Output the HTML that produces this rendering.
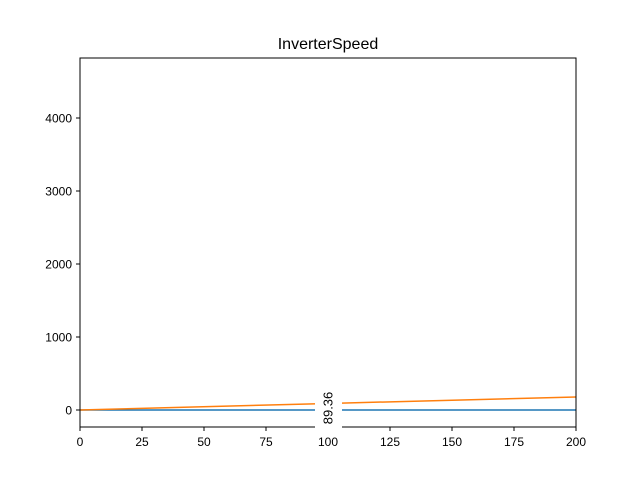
<!DOCTYPE html>
<html><head><meta charset="utf-8"><style>body{margin:0;background:#fff}svg{display:block;font-family:"Liberation Sans","DejaVu Sans",sans-serif}</style></head>
<body>
<svg id="chart" width="640" height="480">
<rect width="640" height="480" fill="#fff"/>
<text x="328" y="49" text-anchor="middle" font-size="16">InverterSpeed</text>
<g id="marks"></g>
<rect x="80" y="58" width="496" height="369" fill="none" stroke="#000" stroke-width="1"/>
<g id="ticks"></g>
<g id="annot"></g>
</svg>
<script>
const xTicks=[0,25,50,75,100,125,150,175,200];
const yTicks=[0,1000,2000,3000,4000];
const seriesX=[0,100,200];
const blueValues=[0,0,0];
const orangeValues=[0,89.36,178.72];
const annotX=[100];
const annotLabels=["89.36"];
const NS="http://www.w3.org/2000/svg";
const xs=v=>80+(v-0)*496/200;
const ys=v=>410-v*0.073;
function mk(t,a,p){const e=document.createElementNS(NS,t);for(const k in a)e.setAttribute(k,a[k]);p.appendChild(e);return e;}
const marks=document.getElementById('marks'),ticks=document.getElementById('ticks'),annot=document.getElementById('annot');
const b=mk('polyline',{points:seriesX.map((x,i)=>xs(x)+','+ys(blueValues[i])).join(' '),fill:'none',stroke:'#1f77b4','stroke-width':1.5},marks);


const o=mk('polyline',{points:seriesX.map((x,i)=>xs(x)+','+ys(orangeValues[i])).join(' '),fill:'none',stroke:'#ff7f0e','stroke-width':1.5},marks);


xTicks.forEach(t=>{const x=xs(t);
const l=mk('line',{x1:x,x2:x,y1:427,y2:431,stroke:'#000'},ticks);


const tx=mk('text',{x:x,y:446,'text-anchor':'middle','font-size':12},ticks);tx.textContent=t;

});
yTicks.forEach(t=>{const y=ys(t);
const l=mk('line',{x1:76,x2:80,y1:y,y2:y,stroke:'#000'},ticks);


const tx=mk('text',{x:72,y:y+4.5,'text-anchor':'end','font-size':12},ticks);tx.textContent=t;

});
annotX.forEach((a,i)=>{const x=xs(a);
const r=mk('rect',{x:x-13,y:385,width:27,height:46,fill:'#fff'},annot);


const tx=mk('text',{x:0,y:0,'text-anchor':'middle','font-size':13,transform:`translate(${x+4.5},408) rotate(-90)`},annot);tx.textContent=annotLabels[i];

});
</script>
</body></html>
